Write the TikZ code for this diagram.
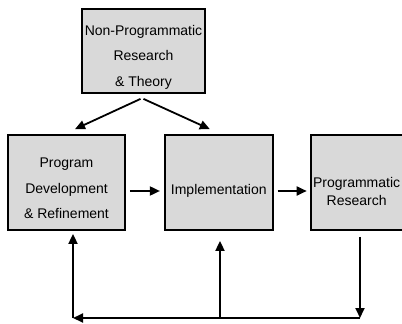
\documentclass[tikz,border=0pt]{standalone}
\usepackage{fontspec}
\setmainfont{Liberation Sans}
\usetikzlibrary{arrows.meta,positioning}
\definecolor{boxgray}{RGB}{217,217,217}
\tikzset{>={Triangle[length=10pt,width=9pt]}, % solid triangle heads
flow/.style={->, line width=1.8pt}, % connectors between the boxes
stage/.style={draw, line width=1.8pt, fill=boxgray, inner sep=0pt, minimum height=95pt}, % the gray boxes
caption/.style={align=center, font=\fontsize{14}{25.5}\selectfont, yshift=-6pt}, % text inside a box
}

\begin{document}
\begin{tikzpicture}[x=1pt,y=-1pt]
\useasboundingbox (0,0) rectangle (402,324);
\clip (0,0) rectangle (402,324);
\node[stage, minimum width=123pt, minimum height=84pt, label={[caption]center:{Non-Programmatic\\Research\\\& Theory}}] (theory) at (143.5,51) {};
\node[stage, minimum width=117pt, label={[caption]center:{Program\\Development\\\& Refinement}}] (dev) at (66.5,182.5) {};
\node[stage, minimum width=108pt, right=38pt of dev, label={[caption, yshift=-2pt]center:{Implementation}}] (impl) {};
\node[stage, minimum width=100pt, right=36pt of impl, label={[caption, font=\fontsize{14}{17.5}\selectfont, yshift=-3pt, xshift=-4pt]center:{Programmatic\\Research}}] (research) {};
\coordinate (cornerL) at (73,318);
\coordinate (midfoot) at (220,318);
\coordinate (cornerR) at (360,318);
\draw[flow] ([xshift=-3pt,yshift=-5pt]theory.south) -- ([xshift=8.5pt,yshift=5pt]dev.north);
\draw[flow] ([yshift=-5pt]theory.south) -- ([xshift=-9pt,yshift=5pt]impl.north);
\draw[flow, shorten <=4pt, shorten >=4pt] ([yshift=-8.5pt]dev.east) -- ([yshift=-8.5pt]impl.west);
\draw[flow, shorten <=4pt, shorten >=3pt] ([yshift=-8.5pt]impl.east) -- ([yshift=-8.5pt]research.west);
\draw[flow, shorten <=6pt] (cornerR |- research.south) -- (cornerR);
\draw[flow] (cornerR) -- (cornerL);
\draw[flow, shorten >=3pt] (cornerL) -- (cornerL |- dev.south);
\draw[flow, shorten >=10pt] (midfoot) -- (midfoot |- impl.south);
\end{tikzpicture}
\end{document}
